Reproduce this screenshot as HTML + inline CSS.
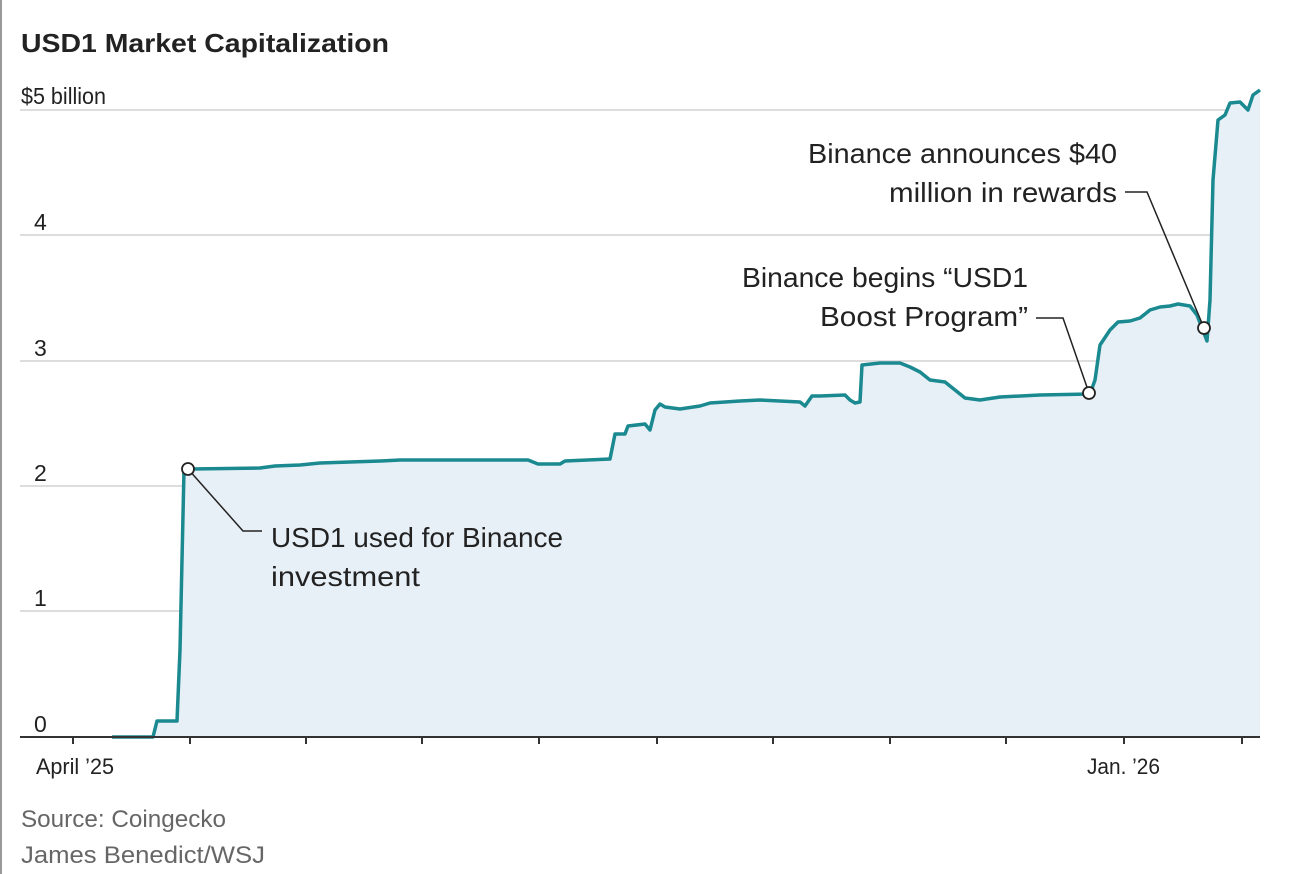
<!DOCTYPE html>
<html><head><meta charset="utf-8"><style>
html,body{margin:0;padding:0;background:#fff;}
svg{display:block;font-family:"Liberation Sans",sans-serif;}
</style></head><body>
<svg width="1292" height="874" viewBox="0 0 1292 874">
<line x1="1" y1="0" x2="1" y2="874" stroke="#999" stroke-width="2"/>
<text x="21" y="52" font-size="26" font-weight="bold" fill="#222" textLength="368" lengthAdjust="spacingAndGlyphs">USD1 Market Capitalization</text>
<g stroke="#ddd" stroke-width="2">
<line x1="20" y1="110" x2="1260" y2="110"/>
<line x1="20" y1="235" x2="1260" y2="235"/>
<line x1="20" y1="361" x2="1260" y2="361"/>
<line x1="20" y1="486" x2="1260" y2="486"/>
<line x1="20" y1="611" x2="1260" y2="611"/>
</g>
<g font-size="23" fill="#222">
<text x="21" y="104" textLength="85" lengthAdjust="spacingAndGlyphs">$5 billion</text>
<text x="34" y="230">4</text>
<text x="34" y="356">3</text>
<text x="34" y="481">2</text>
<text x="34" y="606">1</text>
<text x="34" y="732">0</text>
</g>
<path fill="#e8f0f7" d="M112,737 L153,737 157,721 177,721 180,650 184,470 190,469 260,468 275,466 300,465 320,463 380,461 400,460 528,460 538,464 560,464 565,461 610,459 615,434 625,434 628,426 645,424 650,430 655,410 660,404 665,407 680,409 700,406 710,403 740,401 760,400 800,402 805,406 812,396 820,396 845,395 850,400 855,403 860,402 862,365 880,363 900,363 910,367 920,372 930,380 945,382 955,390 965,398 980,400 1000,397 1040,395 1090,394 1095,380 1100,345 1110,330 1118,322 1130,321 1140,318 1150,310 1160,307 1170,306 1178,304 1190,306 1197,315 1207,341 1210,300 1213,180 1218,120 1225,115 1230,103 1240,102 1248,110 1253,95 1260,90 L1260,737 Z"/>
<polyline fill="none" stroke="#1a8a90" stroke-width="3.5" stroke-linejoin="round" points="112,737 153,737 157,721 177,721 180,650 184,470 190,469 260,468 275,466 300,465 320,463 380,461 400,460 528,460 538,464 560,464 565,461 610,459 615,434 625,434 628,426 645,424 650,430 655,410 660,404 665,407 680,409 700,406 710,403 740,401 760,400 800,402 805,406 812,396 820,396 845,395 850,400 855,403 860,402 862,365 880,363 900,363 910,367 920,372 930,380 945,382 955,390 965,398 980,400 1000,397 1040,395 1090,394 1095,380 1100,345 1110,330 1118,322 1130,321 1140,318 1150,310 1160,307 1170,306 1178,304 1190,306 1197,315 1207,341 1210,300 1213,180 1218,120 1225,115 1230,103 1240,102 1248,110 1253,95 1260,90"/>
<line x1="20" y1="737" x2="1260" y2="737" stroke="#333" stroke-width="2"/>
<g stroke="#333" stroke-width="2">
<line x1="73" y1="737" x2="73" y2="744"/><line x1="190" y1="737" x2="190" y2="744"/><line x1="306" y1="737" x2="306" y2="744"/><line x1="422" y1="737" x2="422" y2="744"/><line x1="539" y1="737" x2="539" y2="744"/><line x1="657" y1="737" x2="657" y2="744"/><line x1="773" y1="737" x2="773" y2="744"/><line x1="890" y1="737" x2="890" y2="744"/><line x1="1006" y1="737" x2="1006" y2="744"/><line x1="1124" y1="737" x2="1124" y2="744"/><line x1="1242" y1="737" x2="1242" y2="744"/>
</g>
<g font-size="22" fill="#222">
<text x="36" y="774" textLength="78" lengthAdjust="spacingAndGlyphs">April ’25</text>
<text x="1087" y="774" textLength="73" lengthAdjust="spacingAndGlyphs">Jan. ’26</text>
</g>
<g fill="none" stroke="#222" stroke-width="1.5">
<polyline points="188,469 243,531 262,531"/>
<polyline points="1036,318 1063,318 1089,393"/>
<polyline points="1125,192 1147,192 1204,328"/>
</g>
<g fill="#fff" stroke="#222" stroke-width="1.8">
<circle cx="188" cy="469" r="6"/><circle cx="1089" cy="393" r="6"/><circle cx="1204" cy="328" r="6"/>
</g>
<g font-size="28" fill="#222" lengthAdjust="spacingAndGlyphs">
<text x="271" y="547" textLength="292" lengthAdjust="spacingAndGlyphs">USD1 used for Binance</text>
<text x="271" y="586" textLength="149" lengthAdjust="spacingAndGlyphs">investment</text>
<text x="742" y="287" textLength="286" lengthAdjust="spacingAndGlyphs">Binance begins “USD1</text>
<text x="820" y="326" textLength="208" lengthAdjust="spacingAndGlyphs">Boost Program”</text>
<text x="808" y="163" textLength="309" lengthAdjust="spacingAndGlyphs">Binance announces $40</text>
<text x="889" y="202" textLength="228" lengthAdjust="spacingAndGlyphs">million in rewards</text>
</g>
<g font-size="24" fill="#666">
<text x="21" y="827" textLength="205" lengthAdjust="spacingAndGlyphs">Source: Coingecko</text>
<text x="21" y="863" textLength="244" lengthAdjust="spacingAndGlyphs">James Benedict/WSJ</text>
</g>
</svg>
</body></html>
